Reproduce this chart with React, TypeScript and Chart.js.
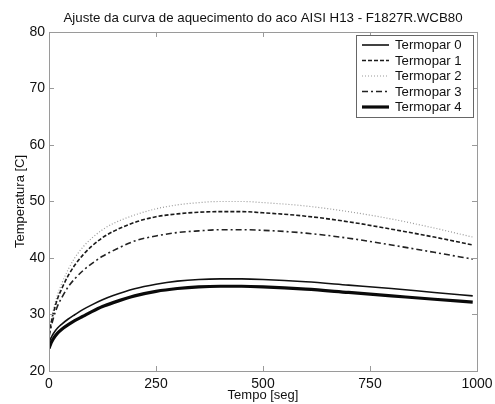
import React, { useEffect, useRef } from "react";
import { Chart, registerables } from "chart.js";

Chart.register(...registerables);

const titleText = "Ajuste da curva de aquecimento do aco AISI H13 - F1827R.WCB80";
const xTitle = "Tempo [seg]";
const yTitle = "Temperatura [C]";

const times = [0, 5, 10, 20, 30, 45, 60, 80, 100, 125, 150, 200, 250, 300, 350, 400, 450, 500, 600, 700, 800, 900, 990];

const labels = ["Termopar 0", "Termopar 1", "Termopar 2", "Termopar 3", "Termopar 4"];

const termopar0 = [25.0, 25.9, 26.6, 27.6, 28.3, 29.2, 29.95, 30.9, 31.7, 32.6, 33.35, 34.55, 35.35, 35.9, 36.2, 36.3, 36.3, 36.2, 35.8, 35.2, 34.6, 33.9, 33.3];
const termopar1 = [26.5, 28.5, 30.2, 32.8, 34.6, 36.9, 38.7, 40.6, 42.1, 43.6, 44.7, 46.3, 47.3, 47.8, 48.1, 48.2, 48.2, 48.0, 47.4, 46.4, 45.1, 43.7, 42.3];
const termopar2 = [27.0, 29.0, 30.8, 33.5, 35.5, 38.0, 40.0, 42.0, 43.5, 45.0, 46.1, 47.6, 48.7, 49.4, 49.8, 50.0, 50.0, 49.8, 49.2, 48.2, 46.9, 45.3, 43.7];
const termopar3 = [26.0, 27.8, 29.3, 31.5, 33.0, 34.9, 36.3, 37.8, 39.0, 40.3, 41.3, 43.0, 43.9, 44.5, 44.8, 45.0, 45.0, 44.9, 44.4, 43.5, 42.3, 41.0, 39.8];
const termopar4 = [24.0, 25.0, 25.7, 26.7, 27.4, 28.2, 28.9, 29.7, 30.5, 31.4, 32.1, 33.3, 34.1, 34.6, 34.9, 35.0, 35.0, 34.9, 34.5, 33.9, 33.3, 32.7, 32.2];

const xTicks = [0, 250, 500, 750, 1000];
const yTicks = [20, 30, 40, 50, 60, 70, 80];

const seriesValues = [termopar0, termopar1, termopar2, termopar3, termopar4];
const seriesColors = ["#111111", "#1a1a1a", "#9a9a9a", "#222222", "#0a0a0a"];
const seriesWidths = [1.6, 1.6, 1.2, 1.6, 3.2];
const seriesDashes: number[][] = [[], [4, 2], [1, 2], [6, 3, 2, 3], []];

const FONT = "'Liberation Sans', Arial, Helvetica, sans-serif";

const framePlugin = {
  id: "frameAndLegend",
  afterDatasetsDraw(chart: any) {
    const ctx = chart.ctx;
    const { left, right, top, bottom } = chart.chartArea;
    const xs = chart.scales.x;
    const ys = chart.scales.y;
    ctx.save();
    ctx.strokeStyle = "#9a9a9a";
    ctx.lineWidth = 1;
    ctx.setLineDash([]);
    ctx.strokeRect(Math.round(left) + 0.5, Math.round(top) + 0.5, Math.round(right - left), Math.round(bottom - top));
    ctx.beginPath();
    xTicks.forEach((v) => {
      const px = Math.round(xs.getPixelForValue(v)) + 0.5;
      ctx.moveTo(px, bottom);
      ctx.lineTo(px, bottom - 5);
      ctx.moveTo(px, top);
      ctx.lineTo(px, top + 5);
    });
    yTicks.forEach((v) => {
      const py = Math.round(ys.getPixelForValue(v)) + 0.5;
      ctx.moveTo(left, py);
      ctx.lineTo(left + 5, py);
      ctx.moveTo(right, py);
      ctx.lineTo(right - 5, py);
    });
    ctx.stroke();

    // legend box
    const bx = 356.5, by = 35.5, bw = 117, bh = 82;
    ctx.fillStyle = "#ffffff";
    ctx.fillRect(bx, by, bw, bh);
    ctx.strokeStyle = "#666666";
    ctx.lineWidth = 1;
    ctx.strokeRect(bx, by, bw, bh);
    ctx.font = "13.2px " + FONT;
    ctx.textBaseline = "middle";
    ctx.textAlign = "left";
    labels.forEach((lab, i) => {
      const y = 45 + i * 15.5;
      ctx.beginPath();
      ctx.strokeStyle = seriesColors[i];
      ctx.lineWidth = seriesWidths[i];
      ctx.setLineDash(seriesDashes[i]);
      ctx.moveTo(362, y);
      ctx.lineTo(389, y);
      ctx.stroke();
      ctx.setLineDash([]);
      ctx.fillStyle = "#111111";
      ctx.fillText(lab, 395, y + 0.5);
    });
    ctx.restore();
  },
};

export default function App() {
  const ref = useRef<HTMLCanvasElement | null>(null);
  useEffect(() => {
    if (!ref.current) return;
    const datasets = seriesValues.map((vals, i) => ({
      label: labels[i],
      data: vals.map((v, j) => ({ x: times[j], y: v })),
      borderColor: seriesColors[i],
      backgroundColor: seriesColors[i],
      borderWidth: seriesWidths[i],
      borderDash: seriesDashes[i],
      pointRadius: 0,
      cubicInterpolationMode: "monotone" as const,
      fill: false,
    }));
    const chart = new Chart(ref.current, {
      type: "line",
      data: { datasets },
      plugins: [framePlugin],
      options: {
        responsive: false,
        animation: false,
        layout: { padding: { left: 0, right: 18, top: 0, bottom: 0 } },
        plugins: {
          legend: { display: false },
          tooltip: { enabled: false },
          title: {
            display: true,
            text: titleText,
            fullSize: false,
            color: "#111111",
            font: { family: FONT, size: 13.3, weight: "normal" },
            padding: { top: 10, bottom: 6 },
          },
        },
        scales: {
          x: {
            type: "linear",
            min: 0,
            max: 1000,
            afterFit: (s: any) => { s.height = 33; s.paddingLeft = 0; s.paddingRight = 0; },
            afterBuildTicks: (s: any) => { s.ticks = xTicks.map((v) => ({ value: v })); },
            grid: { display: false, drawTicks: false },
            border: { display: false },
            ticks: { color: "#111111", font: { family: FONT, size: 14 }, padding: 5, maxRotation: 0, callback: (v: any) => String(v) },
            title: { display: true, text: xTitle, color: "#111111", font: { family: FONT, size: 13 }, padding: { top: 0, bottom: 1 } },
          },
          y: {
            type: "linear",
            min: 20,
            max: 80,
            afterFit: (s: any) => { s.width = 49; s.paddingTop = 0; s.paddingBottom = 0; },
            afterBuildTicks: (s: any) => { s.ticks = yTicks.map((v) => ({ value: v })); },
            grid: { display: false, drawTicks: false },
            border: { display: false },
            ticks: { color: "#111111", font: { family: FONT, size: 14 }, padding: 4, callback: (v: any) => String(v) },
            title: { display: true, text: yTitle, color: "#111111", font: { family: FONT, size: 13 }, padding: { top: 13, bottom: 0 } },
          },
        },
      },
    });
    return () => chart.destroy();
  }, []);
  return (
    <div style={{ position: "fixed", left: 0, top: 0, width: 495, height: 404, background: "#ffffff" }}>
      <canvas ref={ref} width={495} height={404} style={{ display: "block" }} />
    </div>
  );
}
